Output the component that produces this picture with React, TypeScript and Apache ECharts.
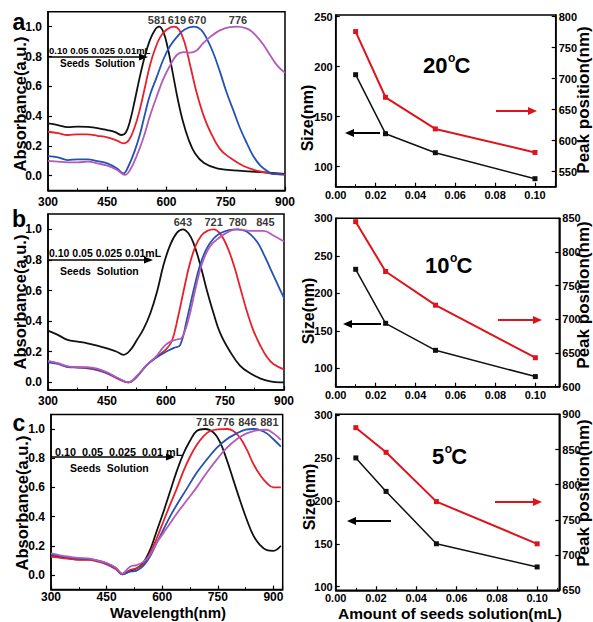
import React, { useEffect, useRef } from 'react';
import * as echarts from 'echarts';

const FONT = '"Liberation Sans", Arial, Helvetica, sans-serif';

// ---------- Panel a spectra (20 °C) ----------
const aBlack = [[300,0.351],[325,0.34],[350,0.326],[375,0.329],[400,0.327],[425,0.32],[450,0.306],[470,0.292],[487,0.273],[497,0.29],[508,0.37],[520,0.51],[533,0.67],[546,0.81],[558,0.91],[570,0.975],[581,1.0],[592,0.965],[603,0.86],[615,0.7],[628,0.52],[641,0.37],[655,0.25],[672,0.15],[695,0.085],[730,0.048],[790,0.033],[850,0.022],[900,0.012]];
const aRed = [[300,0.295],[325,0.285],[350,0.273],[375,0.277],[400,0.277],[425,0.268],[450,0.257],[475,0.235],[491,0.217],[505,0.24],[520,0.33],[533,0.45],[546,0.6],[558,0.74],[571,0.85],[584,0.93],[600,0.98],[619,1.0],[632,0.98],[645,0.9],[660,0.74],[676,0.56],[693,0.41],[710,0.3],[735,0.18],[761,0.12],[795,0.065],[828,0.034],[862,0.016],[900,0.005]];
const aBlue = [[300,0.132],[325,0.123],[350,0.105],[375,0.11],[400,0.11],[425,0.098],[450,0.083],[475,0.049],[491,0.016],[503,0.06],[520,0.17],[533,0.28],[546,0.42],[558,0.54],[575,0.66],[592,0.78],[609,0.87],[626,0.93],[645,0.98],[670,1.0],[687,0.98],[702,0.92],[719,0.82],[735,0.7],[752,0.56],[769,0.44],[786,0.32],[803,0.22],[820,0.13],[837,0.07],[854,0.034],[871,0.01],[900,0.009]];
const aPurple = [[300,0.1],[325,0.095],[350,0.09],[375,0.09],[400,0.094],[425,0.083],[450,0.067],[475,0.038],[495,0.005],[508,0.04],[524,0.13],[541,0.25],[558,0.4],[575,0.53],[592,0.65],[609,0.74],[626,0.81],[643,0.83],[660,0.826],[676,0.84],[693,0.89],[710,0.93],[735,0.975],[760,0.997],[780,1.0],[800,0.99],[815,0.97],[830,0.93],[845,0.88],[862,0.81],[880,0.74],[900,0.69]];
const aPeaks = [581, 619, 670, 776];

// ---------- Panel b spectra (10 °C) ----------
const bBlack = [[300,0.338],[325,0.31],[350,0.277],[375,0.266],[400,0.255],[425,0.24],[450,0.222],[475,0.2],[492,0.18],[509,0.21],[526,0.277],[543,0.35],[560,0.45],[577,0.59],[594,0.77],[611,0.9],[628,0.978],[643,1.0],[657,0.974],[670,0.91],[687,0.77],[704,0.6],[721,0.45],[738,0.32],[763,0.2],[788,0.11],[814,0.059],[839,0.026],[865,0.006],[890,0.0],[900,0.0]];
const bRed = [[300,0.135],[325,0.124],[350,0.102],[375,0.098],[400,0.092],[425,0.08],[450,0.059],[475,0.026],[505,0.0],[525,0.035],[550,0.11],[575,0.165],[600,0.215],[615,0.27],[630,0.42],[645,0.6],[660,0.77],[675,0.89],[690,0.96],[705,0.99],[721,1.0],[738,0.97],[755,0.89],[772,0.77],[788,0.625],[805,0.47],[822,0.34],[839,0.244],[856,0.168],[873,0.12],[900,0.085]];
const bBlue = [[300,0.13],[325,0.12],[350,0.1],[375,0.097],[400,0.095],[425,0.083],[450,0.062],[475,0.03],[505,0.0],[525,0.035],[550,0.11],[575,0.16],[600,0.2],[620,0.225],[636,0.244],[653,0.41],[670,0.6],[687,0.77],[704,0.876],[721,0.94],[738,0.974],[760,0.995],[780,1.0],[805,0.985],[831,0.92],[848,0.84],[865,0.745],[882,0.65],[900,0.55]];
const bPurple = [[300,0.14],[325,0.125],[350,0.105],[375,0.1],[400,0.1],[425,0.09],[450,0.066],[475,0.032],[505,0.0],[525,0.04],[550,0.11],[575,0.17],[595,0.235],[611,0.266],[628,0.28],[640,0.29],[657,0.41],[674,0.6],[691,0.77],[712,0.89],[738,0.95],[763,0.99],[780,1.0],[814,0.99],[848,0.99],[873,0.96],[900,0.92]];
const bPeaks = [643, 721, 780, 845];

// ---------- Panel c spectra (5 °C) ----------
const cBlack = [[300,0.137],[325,0.125],[350,0.114],[375,0.107],[400,0.107],[425,0.098],[450,0.08],[475,0.046],[492,0.005],[513,0.027],[531,0.046],[549,0.084],[567,0.17],[585,0.3],[603,0.43],[621,0.57],[639,0.71],[657,0.83],[675,0.92],[693,0.986],[716,1.0],[738,0.977],[756,0.91],[774,0.79],[792,0.65],[810,0.51],[828,0.38],[846,0.27],[864,0.205],[882,0.17],[900,0.165],[920,0.2]];
const cRed = [[300,0.125],[325,0.118],[350,0.11],[375,0.104],[400,0.103],[425,0.092],[450,0.073],[475,0.04],[492,0.005],[513,0.034],[531,0.046],[549,0.075],[567,0.15],[585,0.25],[603,0.365],[621,0.48],[639,0.59],[657,0.71],[675,0.81],[693,0.89],[711,0.95],[729,0.986],[750,0.998],[776,1.0],[792,0.986],[810,0.94],[828,0.86],[846,0.76],[864,0.685],[882,0.63],[900,0.6],[920,0.6]];
const cBlue = [[300,0.14],[325,0.13],[350,0.12],[375,0.112],[400,0.11],[425,0.098],[450,0.078],[475,0.046],[492,0.007],[513,0.023],[531,0.03],[549,0.062],[567,0.126],[585,0.22],[603,0.31],[621,0.4],[639,0.48],[666,0.59],[693,0.7],[720,0.79],[747,0.87],[774,0.93],[801,0.97],[825,0.995],[846,1.0],[864,0.993],[882,0.97],[900,0.93],[920,0.88]];
const cPurple = [[300,0.148],[325,0.135],[350,0.125],[375,0.117],[400,0.114],[425,0.1],[450,0.082],[475,0.05],[492,0.01],[513,0.057],[531,0.068],[549,0.09],[567,0.137],[585,0.22],[612,0.32],[639,0.42],[666,0.51],[693,0.6],[720,0.7],[747,0.79],[774,0.87],[801,0.93],[828,0.97],[855,0.99],[881,0.995],[900,0.97],[920,0.925]];
const cPeaks = [716, 776, 846, 881];

// ---------- Size / peak position vs seeds ----------
const seeds = [0.01, 0.025, 0.05, 0.1];
const size20 = [192, 133, 114, 88];
const peak20 = [776, 670, 619, 581];
const size10 = [232, 160, 124, 89];
const peak10 = [845, 771, 721, 643];
const size5 = [250, 211, 150, 123];
const peak5 = [881, 846, 776, 716];

const absTicks = [0, 0.2, 0.4, 0.6, 0.8, 1.0];
const sizeTicks20 = [100, 150, 200, 250];
const peakTicks20 = [550, 600, 650, 700, 750, 800];
const sizeTicks10 = [100, 150, 200, 250, 300];
const peakTicks10 = [600, 650, 700, 750, 800, 850];
const sizeTicks5 = [100, 150, 200, 250, 300];
const peakTicks5 = [650, 700, 750, 800, 850, 900];

const C_BLACK = '#111111';
const C_RED = '#e8202a';
const C_BLUE = '#2352b4';
const C_PURPLE = '#b45ab9';
const C_RED2 = '#dd141c';

const lineStyleAxis = { color: '#000', width: 1.5 };
const labelBase = { color: '#000', fontFamily: FONT, fontWeight: 'bold' as const };

function specX(gridIndex: number, max: number, margin: number) {
  return {
    type: 'value', gridIndex, min: 300, max, interval: 150,
    axisLine: { show: true, onZero: false, lineStyle: lineStyleAxis },
    axisTick: { show: true, inside: true, length: 4, lineStyle: { color: '#000', width: 1.2 } },
    minorTick: { show: true, splitNumber: 2, length: 2.5, lineStyle: { color: '#000', width: 1 } },
    axisLabel: { ...labelBase, fontSize: 12, margin, showMaxLabel: max === 900, showMinLabel: true },
    splitLine: { show: false }, minorSplitLine: { show: false },
  };
}
function specY(gridIndex: number, min: number) {
  return {
    type: 'value', gridIndex, min, max: 1.1,
    axisLine: { show: true, onZero: false, lineStyle: lineStyleAxis },
    axisTick: { show: true, inside: true, length: 4, customValues: absTicks, lineStyle: { color: '#000', width: 1.2 } },
    axisLabel: { ...labelBase, fontSize: 12, margin: 6, customValues: absTicks, formatter: (v: number) => v.toFixed(1) },
    splitLine: { show: false },
  };
}
function seedX(gridIndex: number, max: number, margin: number) {
  return {
    type: 'value', gridIndex, min: 0, max, interval: 0.02,
    axisLine: { show: true, onZero: false, lineStyle: lineStyleAxis },
    axisTick: { show: true, inside: true, length: 4, lineStyle: { color: '#000', width: 1.2 } },
    minorTick: { show: true, splitNumber: 2, length: 2.5, lineStyle: { color: '#000', width: 1 } },
    axisLabel: { ...labelBase, fontSize: 11, margin, showMaxLabel: false, formatter: (v: number) => v.toFixed(2) },
    splitLine: { show: false }, minorSplitLine: { show: false },
  };
}
function valY(gridIndex: number, min: number, max: number, ticks: number[], position: 'left' | 'right') {
  return {
    type: 'value', gridIndex, min, max, position,
    axisLine: { show: true, onZero: false, lineStyle: lineStyleAxis },
    axisTick: { show: true, inside: true, length: 4, customValues: ticks, lineStyle: { color: '#000', width: 1.2 } },
    axisLabel: { ...labelBase, fontSize: 11, margin: 3, customValues: ticks },
    splitLine: { show: false },
  };
}

function spec(data: number[][], color: string, x: number, y: number) {
  return {
    type: 'line', xAxisIndex: x, yAxisIndex: y, data, showSymbol: false, symbol: 'none',
    smooth: 0.4, lineStyle: { color, width: 1.8 }, z: 3,
  };
}
function peakLabels(peaks: number[], offsets: number[], x: number, y: number) {
  return {
    type: 'scatter', xAxisIndex: x, yAxisIndex: y, symbolSize: 1,
    itemStyle: { color: 'rgba(0,0,0,0)' }, z: 5,
    label: {
      show: true, position: 'top', distance: 1, ...labelBase, fontSize: 11,
      formatter: (p: any) => String(p.value[0]),
    },
    data: peaks.map((p, i) => ({ value: [p, 1.0], label: { offset: [offsets[i], 0] } })),
  };
}
function seedSeries(vals: number[], color: string, x: number, y: number, width: number) {
  return {
    type: 'line', xAxisIndex: x, yAxisIndex: y,
    data: seeds.map((s, i) => [s, vals[i]]),
    symbol: 'rect', symbolSize: 5, showSymbol: true,
    lineStyle: { color, width }, itemStyle: { color }, z: 4,
  };
}

function txt(x: number, y: number, text: string, fontSize: number, extra: any = {}) {
  return {
    type: 'text', x, y, silent: true,
    style: { text, fontSize, fontFamily: FONT, fontWeight: 'bold', fill: '#000', align: 'left', verticalAlign: 'middle', ...extra },
  };
}
function vtxt(x: number, y: number, text: string, fontSize: number) {
  return {
    type: 'text', x, y, rotation: Math.PI / 2, silent: true,
    style: { text, fontSize, fontFamily: FONT, fontWeight: 'bold', fill: '#000', align: 'center', verticalAlign: 'middle' },
  };
}
function arrow(x1: number, x2: number, y: number, color: string, w: number, head: number, half: number) {
  const dir = x2 > x1 ? 1 : -1;
  const base = x2 - dir * head;
  return [
    { type: 'line', silent: true, shape: { x1, y1: y, x2: base, y2: y }, style: { stroke: color, lineWidth: w } },
    { type: 'polygon', silent: true, shape: { points: [[x2, y], [base, y - half], [base, y + half]] }, style: { fill: color } },
  ];
}
function tempLabel(x: number, y: number, num: string) {
  const numW = num.length * 12.25;
  return [
    txt(x, y, num, 22),
    txt(x + numW + 0.5, y - 7, 'o', 12),
    txt(x + numW + 7, y, 'C', 22),
  ];
}

export default function App() {
  const ref = useRef<HTMLDivElement>(null);
  useEffect(() => {
    document.body.style.margin = '0';
    if (!ref.current) return;
    const chart = echarts.init(ref.current, undefined, { renderer: 'svg' });
    const grid = (left: number, top: number, width: number, height: number) => ({
      left, top, width, height, show: true, borderColor: '#000', borderWidth: 1.5,
      backgroundColor: 'transparent', containLabel: false, outerBoundsMode: 'none',
    });
    const option: any = {
      animation: false,
      backgroundColor: '#ffffff',
      grid: [
        grid(48, 11.8, 237, 178.8),
        grid(335.7, 15, 220, 171.7),
        grid(48, 214, 236, 176),
        grid(335.7, 218.3, 223.6, 168.4),
        grid(51, 414.4, 231.7, 175.2),
        grid(335.7, 414.3, 223.6, 176),
      ],
      xAxis: [
        specX(0, 900, 5),
        seedX(1, 0.1104, 3),
        specX(2, 900, 5),
        seedX(3, 0.112, 3),
        specX(4, 925, 1.5),
        seedX(5, 0.111, 2),
      ],
      yAxis: [
        specY(0, -0.1),
        valY(1, 80, 251.7, sizeTicks20, 'left'),
        valY(1, 525.8, 802.7, peakTicks20, 'right'),
        specY(2, -0.05),
        valY(3, 75.5, 300, sizeTicks10, 'left'),
        valY(3, 600, 850, peakTicks10, 'right'),
        specY(4, -0.1),
        valY(5, 95.8, 300.8, sizeTicks5, 'left'),
        valY(5, 650, 900, peakTicks5, 'right'),
      ],
      series: [
        spec(aBlack, C_BLACK, 0, 0), spec(aRed, C_RED, 0, 0), spec(aBlue, C_BLUE, 0, 0), spec(aPurple, C_PURPLE, 0, 0),
        peakLabels(aPeaks, [-2, 3, 3, 2], 0, 0),
        seedSeries(size20, C_BLACK, 1, 1, 1.5), seedSeries(peak20, C_RED2, 1, 2, 2),
        spec(bBlack, C_BLACK, 2, 3), spec(bRed, C_RED, 2, 3), spec(bBlue, C_BLUE, 2, 3), spec(bPurple, C_PURPLE, 2, 3),
        peakLabels(bPeaks, [0, 0, 1, 3], 2, 3),
        seedSeries(size10, C_BLACK, 3, 4, 1.5), seedSeries(peak10, C_RED2, 3, 5, 2),
        spec(cBlack, C_BLACK, 4, 6), spec(cRed, C_RED, 4, 6), spec(cBlue, C_BLUE, 4, 6), spec(cPurple, C_PURPLE, 4, 6),
        peakLabels(cPeaks, [0, -2, -6, 3], 4, 6),
        seedSeries(size5, C_BLACK, 5, 7, 1.5), seedSeries(peak5, C_RED2, 5, 8, 2),
      ],
      graphic: [
        txt(19, 22, 'a', 23, { align: 'center' }),
        txt(19, 219, 'b', 23, { align: 'center' }),
        txt(19, 423, 'c', 23, { align: 'center' }),
        vtxt(20, 104, 'Absorbance(a.u.)', 16.5),
        vtxt(20, 302, 'Absorbance(a.u.)', 16.5),
        vtxt(21.5, 503, 'Absorbance(a.u.)', 16.5),
        vtxt(307, 118, 'Size(nm)', 16),
        vtxt(308, 311, 'Size(nm)', 16),
        vtxt(309, 497, 'Size(nm)', 16),
        vtxt(583.5, 100, 'Peak position(nm)', 17),
        vtxt(583.5, 295, 'Peak position(nm)', 17),
        vtxt(583.5, 493, 'Peak position(nm)', 17),
        txt(168, 612.5, 'Wavelength(nm)', 15, { align: 'center' }),
        txt(450, 613, 'Amount of seeds solution(mL)', 15.5, { align: 'center' }),
        txt(49, 50, '0.10 0.05 0.025 0.01mL', 9.5),
        ...arrow(48, 148, 57, '#000', 1.4, 9, 3.5),
        txt(60, 63.5, 'Seeds  Solution', 10),
        txt(49, 252.5, '0.10 0.05 0.025 0.01mL', 10.5),
        ...arrow(48, 153, 260, '#000', 1.4, 9, 3.5),
        txt(60, 271, 'Seeds  Solution', 10.5),
        txt(55, 451.5, '0.10  0.05  0.025  0.01 mL', 10.8),
        ...arrow(51, 175, 457, '#000', 1.4, 9, 3.5),
        txt(70, 468, 'Seeds  Solution', 10.5),
        ...tempLabel(423, 65, '20'),
        ...tempLabel(425, 265, '10'),
        ...tempLabel(432, 456, '5'),
        ...arrow(380, 345, 133, '#000', 2, 9, 4),
        ...arrow(496, 537, 111, C_RED2, 2, 9, 4),
        ...arrow(381, 343, 324, '#000', 2, 9, 4),
        ...arrow(498, 542, 320, C_RED2, 2, 9, 4),
        ...arrow(391, 347, 521, '#000', 2, 9, 4),
        ...arrow(495, 542, 502, C_RED2, 2, 9, 4),
      ],
    };
    chart.setOption(option);
    return () => chart.dispose();
  }, []);
  return <div ref={ref} style={{ width: 593, height: 622 }} />;
}
